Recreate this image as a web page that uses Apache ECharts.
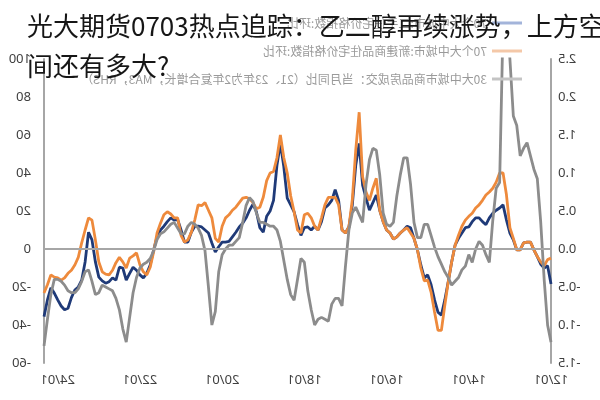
<!DOCTYPE html>
<html><head><meta charset="utf-8">
<script src="https://cdn.jsdelivr.net/npm/echarts@6/dist/echarts.min.js"></script>
<style>
html,body{margin:0;padding:0;background:#fff;}
#wrap{position:relative;width:600px;height:400px;overflow:hidden;background:#fff;}
#chart{position:absolute;left:0;top:0;width:600px;height:400px;transform:scaleX(-1);}
#title{position:absolute;left:0;top:0;width:600px;height:400px;pointer-events:none;}
</style></head><body>
<div id="wrap"><div id="chart"></div><div id="title"></div></div>
<script>
// ---- data (monthly, 2012-01 .. 2024-05) ----
const startYear = 2012, endYear = 2024, endMonth = 5;
const months = [];
for (let y = startYear; y <= endYear; y++) {
  for (let m = 1; m <= 12; m++) {
    if (y === endYear && m > endMonth) break;
    months.push(y + '-' + (m < 10 ? '0' + m : '' + m));
  }
}
const xTickLabels = ['12/01','14/01','16/01','18/01','20/01','22/01','24/01'];

const seriesNames = [
  '70个大中城市:二手住宅价格指数:环比',
  '70个大中城市:新建商品住宅价格指数:环比',
  '30大中城市商品房成交：当月同比（21、23年为2年复合增长，MA3，RHS）'
];

// 二手住宅价格指数:环比 (%)
const secondHand = [
-0.46,-0.22,-0.25,-0.2,-0.1,-0.01,0.09,0.09,0.08,-0.01,
-0.01,0.12,0.21,0.38,0.58,0.54,0.51,0.47,0.41,0.32,
0.36,0.41,0.41,0.36,0.29,0.28,0.21,0.14,0.05,-0.17,
-0.43,-0.67,-0.87,-0.83,-0.67,-0.47,-0.34,-0.38,-0.21,-0.01,
0.14,0.28,0.3,0.25,0.21,0.16,0.13,0.21,0.25,0.36,
0.51,0.71,0.61,0.51,0.67,0.84,1.39,1.1,0.58,0.29,
0.21,0.25,0.64,0.78,0.64,0.58,0.54,0.36,0.25,0.3,
0.25,0.29,0.28,0.18,0.32,0.49,0.58,0.67,1.08,1.39,
1.1,0.64,0.5,0.43,0.22,0.28,0.49,0.59,0.51,0.41,
0.34,0.29,0.22,0.16,0.1,0.09,0.09,0.03,-0.04,0.08,
0.21,0.25,0.29,0.3,0.3,0.22,0.09,0.09,0.25,0.39,
0.38,0.41,0.36,0.3,0.25,0.16,-0.01,-0.21,-0.32,-0.38,
-0.34,-0.28,-0.24,-0.32,-0.41,-0.25,-0.24,-0.41,-0.38,-0.43,
-0.45,-0.42,-0.37,-0.17,0.12,0.22,-0.17,-0.41,-0.5,-0.54,
-0.64,-0.78,-0.8,-0.75,-0.67,-0.58,-0.51,-0.67,-0.89];

// 新建商品住宅价格指数:环比 (%)
const newHome = [
-0.12,-0.14,-0.22,-0.17,-0.1,-0.01,0.09,0.09,0.08,-0.01,
-0.01,0.14,0.28,0.71,1.0,1.0,0.88,0.8,0.75,0.71,
0.64,0.58,0.54,0.47,0.43,0.38,0.3,0.18,0.05,-0.17,
-0.43,-0.74,-1.07,-1.07,-0.83,-0.57,-0.41,-0.42,-0.25,-0.01,
0.14,0.21,0.28,0.25,0.21,0.16,0.13,0.21,0.25,0.36,
0.51,0.93,0.8,0.64,0.75,0.95,1.8,1.3,0.65,0.29,
0.21,0.25,0.58,0.68,0.68,0.68,0.58,0.41,0.25,0.3,
0.41,0.47,0.45,0.21,0.25,0.49,0.7,1.0,1.2,1.5,
1.2,1.02,1.0,0.9,0.68,0.55,0.53,0.61,0.66,0.68,
0.67,0.61,0.55,0.51,0.45,0.41,0.3,0.09,0.14,0.41,
0.51,0.61,0.57,0.58,0.38,0.22,0.12,0.09,0.18,0.41,
0.41,0.46,0.49,0.45,0.34,0.21,-0.04,-0.24,-0.34,-0.3,
-0.21,-0.05,-0.09,-0.12,-0.25,-0.17,-0.11,-0.18,-0.28,-0.34,
-0.33,-0.3,-0.17,0.12,0.38,0.41,0.25,0.08,-0.11,-0.21,
-0.28,-0.32,-0.38,-0.41,-0.38,-0.37,-0.34,-0.47,-0.58];

// 30大中城市商品房成交:当月同比 MA3 (%, RHS)
const sales30 = [
-49,-40,-16,14,37,42,49,56,53,49,
65,70,100,125,118,35,32,15,-7,-3,
2,4,0,-7,-3,-9,-11,-15,-17,-19,
-15,-12,-8,-4,1,7,13,13,6,6,
14,34,48,48,39,28,14,12,13,19,
39,52,53,47,34,14,18,22,19,10,
-9,-30,-26,-26,-29,-38,-37,-36,-37,-40,
-32,-22,-7,-5,-16,-27,-24,-16,-6,4,
10,12,12,13,14,14,19,25,27,23,
14,6,4,2,2,0,-3,-12,-33,-40,
-20,-1,7,11,13,14,12,8,8,11,
14,13,11,9,8,5,-1,-5,-7,-8,
-10,-15,-23,-36,-49,-42,-32,-26,-22,-21,
-20,-19,-23,-24,-17,-11,-12,-17,-21,-23,
-23,-22,-19,-17,-16,-16,-24,-37,-51];

const titleText = '光大期货0703热点追踪：乙二醇再续涨势，上方空\n间还有多大?';

// ---- chart (the reference is a horizontally mirrored image) ----
function tickText(v) {
  return v.slice(2, 4) + '/' + v.slice(5, 7);
}
const chart = echarts.init(document.getElementById('chart'), null, {renderer: 'canvas'});
const axisGray = '#a6a6a6';
chart.setOption({
  animation: false,
  backgroundColor: '#fff',
  grid: {left: 49, right: 44, top: 59, bottom: 37, containLabel: false},
  legend: {
    orient: 'vertical', left: 73, top: 11, itemWidth: 30, itemHeight: 3, itemGap: 14,
    icon: 'rect',
    textStyle: {color: '#9a9a9a', fontSize: 12, lineHeight: 14, fontFamily: 'Noto Sans CJK SC'},
    data: [
      {name: seriesNames[0], itemStyle: {color: '#a3b4da'}},
      {name: seriesNames[1], itemStyle: {color: '#f4c8a8'}},
      {name: seriesNames[2], itemStyle: {color: '#c4c4c4'}}
    ]
  },
  xAxis: {
    type: 'category', data: months, boundaryGap: false,
    axisLine: {show: false}, axisTick: {show: false}, splitLine: {show: false},
    axisLabel: {
      color: '#404040', fontSize: 13, fontFamily: 'Noto Sans', margin: 11,
      interval: function (idx, v) { return xTickLabels.indexOf(tickText(v)) >= 0; },
      formatter: function (v) { return tickText(v); }
    }
  },
  yAxis: [
    {
      type: 'value', position: 'left', min: -1.5, max: 2.5, interval: 0.5,
      axisLine: {show: true, lineStyle: {color: axisGray, width: 2}},
      axisTick: {show: false}, splitLine: {show: false},
      axisLabel: {color: '#404040', fontSize: 13, fontFamily: 'Noto Sans', margin: 7,
        formatter: function (v) { return v.toFixed(1); }}
    },
    {
      type: 'value', position: 'right', min: -60, max: 100, interval: 20,
      axisLine: {show: true, lineStyle: {color: axisGray, width: 2}},
      axisTick: {show: false}, splitLine: {show: false},
      axisLabel: {color: '#404040', fontSize: 13, fontFamily: 'Noto Sans', margin: 13}
    }
  ],
  series: [
    {
      name: seriesNames[0], type: 'line', yAxisIndex: 0, data: secondHand,
      symbol: 'none', lineStyle: {color: '#1f3a78', width: 2.8}, itemStyle: {color: '#1f3a78'},
      markLine: {silent: true, symbol: 'none', label: {show: false},
        lineStyle: {color: axisGray, width: 2, type: 'solid'}, data: [{yAxis: 0}]}
    },
    {
      name: seriesNames[1], type: 'line', yAxisIndex: 0, data: newHome,
      symbol: 'none', lineStyle: {color: '#ee8a3c', width: 2.8}, itemStyle: {color: '#ee8a3c'}
    },
    {
      name: seriesNames[2], type: 'line', yAxisIndex: 1, data: sales30,
      symbol: 'none', lineStyle: {color: '#8c8c8c', width: 2.8}, itemStyle: {color: '#8c8c8c'}
    }
  ]
});

// ---- title overlay (not mirrored) ----
const tchart = echarts.init(document.getElementById('title'), null, {renderer: 'canvas'});
tchart.setOption({
  animation: false,
  title: {
    text: titleText, left: 22, top: 1,
    textStyle: {fontSize: 26, fontWeight: 'normal', lineHeight: 40, color: '#161616',
      fontFamily: 'Noto Sans CJK SC'}
  }
});
</script>
</body></html>
